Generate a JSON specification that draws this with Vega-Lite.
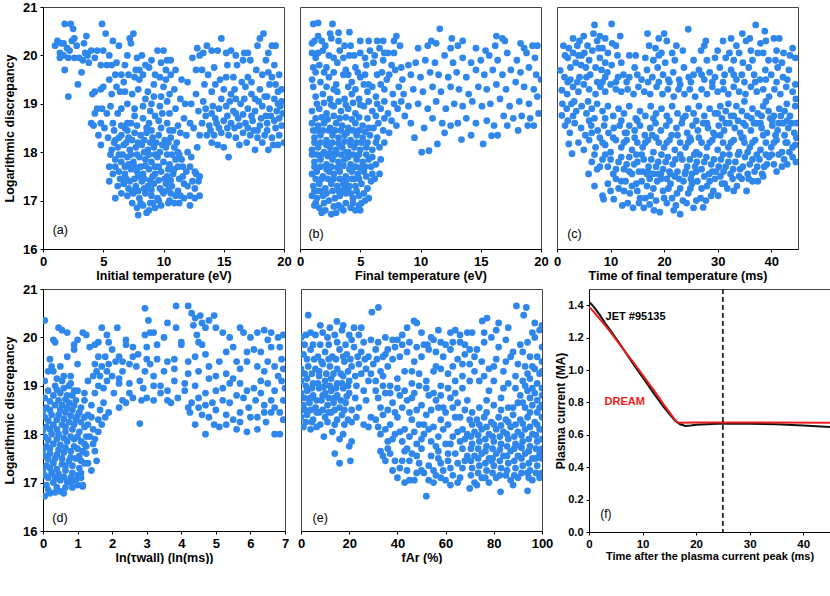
{
  "$schema": "https://vega.github.io/schema/vega-lite/v6.json",
  "padding": {"left": 3, "top": 0, "right": 0, "bottom": 0},
  "config": {
    "font": "Liberation Sans",
    "view": {"stroke": "#444", "strokeWidth": 1},
    "axis": {
      "grid": false, "labelFont": "Liberation Sans", "labelFontWeight": "bold", "labelFontSize": 13,
      "labelColor": "#000", "titleFont": "Liberation Sans", "titleFontWeight": "bold", "titleFontSize": 12.5,
      "titleColor": "#000", "domainColor": "#000", "tickColor": "#000", "tickSize": 3, "labelPadding": 3,
      "labelFlush": false, "labelOverlap": false, "tickCount": 20
    },
    "axisX": {"titlePadding": 1},
    "axisY": {"titlePadding": 6}
  },
  "datasets": {
    "a": [
      {"x":1.0,"y":20.2},{"x":1.2,"y":20.3},{"x":1.5,"y":20.25},{"x":1.4,"y":20.05},{"x":1.7,"y":20.0},{"x":1.8,"y":20.65},{"x":2.0,"y":20.15},{"x":2.2,"y":20.1},{"x":2.3,"y":20.65},{"x":2.5,"y":20.55},{"x":2.6,"y":20.35},{"x":2.8,"y":20.2},{"x":2.1,"y":19.95},{"x":2.6,"y":19.95},{"x":1.4,"y":19.95},{"x":1.8,"y":19.7},{"x":2.1,"y":19.15},{"x":2.9,"y":19.4},{"x":3.2,"y":19.65},{"x":3.0,"y":19.95},{"x":3.3,"y":19.9},{"x":3.4,"y":20.25},{"x":3.6,"y":20.4},{"x":4.0,"y":20.1},{"x":3.8,"y":19.85},{"x":4.5,"y":20.1},{"x":4.9,"y":20.65},{"x":5.2,"y":20.45},{"x":5.0,"y":20.1},{"x":5.5,"y":20.0},{"x":5.8,"y":20.3},{"x":6.1,"y":19.85},{"x":6.3,"y":20.2},{"x":6.0,"y":19.6},{"x":4.8,"y":19.8},{"x":5.3,"y":19.8},{"x":6.7,"y":19.45},{"x":6.5,"y":19.6},{"x":7.1,"y":19.6},{"x":7.0,"y":20.0},{"x":7.2,"y":20.35},{"x":7.5,"y":20.45},{"x":7.3,"y":20.25},{"x":7.8,"y":19.95},{"x":7.7,"y":19.7},{"x":8.0,"y":19.7},{"x":8.3,"y":19.6},{"x":8.5,"y":19.8},{"x":8.8,"y":19.75},{"x":9.0,"y":19.9},{"x":9.5,"y":20.1},{"x":9.8,"y":19.85},{"x":10.0,"y":20.1},{"x":10.3,"y":19.9},{"x":10.6,"y":19.9},{"x":9.3,"y":19.6},{"x":9.7,"y":19.55},{"x":10.2,"y":19.5},{"x":10.6,"y":19.6},{"x":11.0,"y":19.7},{"x":10.9,"y":19.3},{"x":10.5,"y":19.2},{"x":9.2,"y":19.15},{"x":8.7,"y":19.25},{"x":8.5,"y":19.1},{"x":11.5,"y":19.5},{"x":12.0,"y":19.45},{"x":11.4,"y":19.1},{"x":11.8,"y":19.0},{"x":11.7,"y":18.7},{"x":12.2,"y":18.6},{"x":12.5,"y":18.5},
      {"x":4.1,"y":19.2},{"x":4.3,"y":19.25},{"x":4.8,"y":19.3},{"x":5.0,"y":19.35},{"x":4.0,"y":18.6},{"x":4.2,"y":18.55},{"x":4.8,"y":18.6},{"x":4.6,"y":18.35},{"x":4.8,"y":18.15},{"x":4.5,"y":18.9},{"x":4.9,"y":18.9},{"x":5.8,"y":18.6},{"x":5.4,"y":18.3},{"x":5.3,"y":18.8},{"x":6.2,"y":18.8},{"x":6.5,"y":18.9},{"x":6.1,"y":19.35},{"x":7.0,"y":19.0},{"x":7.4,"y":19.2},{"x":7.9,"y":19.3},{"x":7.0,"y":18.6},{"x":5.7,"y":19.2},
      {"x":6.8,"y":18.5},{"x":7.3,"y":18.6},{"x":7.8,"y":18.55},{"x":8.3,"y":18.7},{"x":8.8,"y":18.6},{"x":9.3,"y":18.75},{"x":9.8,"y":18.5},{"x":10.3,"y":18.6},{"x":10.8,"y":18.45},{"x":6.3,"y":18.3},
      {"x":5.9,"y":18.2},{"x":6.5,"y":18.35},{"x":7.1,"y":18.3},{"x":7.6,"y":18.4},{"x":8.1,"y":18.35},{"x":8.6,"y":18.4},{"x":9.1,"y":18.3},{"x":9.6,"y":18.35},{"x":10.1,"y":18.25},{"x":10.6,"y":18.3},{"x":11.1,"y":18.2},{"x":11.4,"y":18.4},
      {"x":5.7,"y":18.05},{"x":6.2,"y":18.1},{"x":6.7,"y":18.15},{"x":7.2,"y":18.05},{"x":7.7,"y":18.1},{"x":8.2,"y":18.15},{"x":8.7,"y":18.05},{"x":9.2,"y":18.1},{"x":9.7,"y":18.0},{"x":10.2,"y":18.1},{"x":10.7,"y":17.95},{"x":11.2,"y":18.0},
      {"x":6.0,"y":17.85},{"x":6.5,"y":17.8},{"x":7.0,"y":17.9},{"x":7.5,"y":17.8},{"x":8.0,"y":17.9},{"x":8.5,"y":17.85},{"x":9.0,"y":17.8},{"x":9.5,"y":17.9},{"x":10.0,"y":17.8},{"x":10.5,"y":17.75},{"x":11.0,"y":17.85},{"x":11.6,"y":17.7},{"x":12.3,"y":17.9},
      {"x":5.8,"y":17.55},{"x":6.3,"y":17.6},{"x":6.8,"y":17.55},{"x":7.3,"y":17.65},{"x":7.8,"y":17.6},{"x":8.3,"y":17.55},{"x":8.8,"y":17.65},{"x":9.3,"y":17.55},{"x":9.8,"y":17.6},{"x":10.3,"y":17.5},{"x":10.8,"y":17.55},{"x":11.3,"y":17.45},{"x":11.9,"y":17.6},{"x":12.6,"y":17.6},{"x":13.0,"y":17.5},
      {"x":6.2,"y":17.3},{"x":6.7,"y":17.35},{"x":7.2,"y":17.4},{"x":7.7,"y":17.3},{"x":8.2,"y":17.4},{"x":8.7,"y":17.3},{"x":9.2,"y":17.35},{"x":9.7,"y":17.25},{"x":10.2,"y":17.35},{"x":10.7,"y":17.3},{"x":11.2,"y":17.2},{"x":11.7,"y":17.35},{"x":12.2,"y":17.1},{"x":12.9,"y":17.4},
      {"x":7.0,"y":17.1},{"x":7.5,"y":17.15},{"x":8.0,"y":17.05},{"x":8.5,"y":17.15},{"x":9.0,"y":17.1},{"x":9.5,"y":17.05},{"x":10.0,"y":17.15},{"x":10.5,"y":17.0},{"x":11.0,"y":17.1},{"x":11.7,"y":17.05},{"x":12.6,"y":17.05},{"x":13.0,"y":17.1},
      {"x":7.8,"y":16.85},{"x":8.3,"y":16.9},{"x":8.8,"y":16.8},{"x":9.3,"y":16.85},{"x":9.8,"y":16.9},{"x":8.6,"y":16.75},{"x":7.9,"y":16.7},{"x":10.4,"y":16.95},{"x":12.2,"y":16.9},
      {"x":6.0,"y":17.7},{"x":6.6,"y":17.95},{"x":7.1,"y":17.75},{"x":7.6,"y":17.45},{"x":8.1,"y":17.7},{"x":8.6,"y":17.25},{"x":9.1,"y":17.5},{"x":9.6,"y":17.7},{"x":10.1,"y":17.45},{"x":10.6,"y":17.15},{"x":8.4,"y":18.0},{"x":9.4,"y":18.2},{"x":7.4,"y":17.2},{"x":8.9,"y":16.95},{"x":10.9,"y":17.65},{"x":11.5,"y":17.85},{"x":12.0,"y":17.3},{"x":6.4,"y":17.45},{"x":7.0,"y":18.45},{"x":9.0,"y":18.45},{"x":5.5,"y":17.7},{"x":6.0,"y":17.05},{"x":5.9,"y":18.45},
      {"x":12.0,"y":18.0},{"x":12.7,"y":17.55},{"x":11.9,"y":18.35},{"x":12.8,"y":18.1},
      {"x":6.5,"y":18.55},{"x":7.6,"y":18.75},{"x":8.6,"y":18.5},{"x":9.6,"y":18.65},{"x":10.5,"y":18.45},
      {"x":6.0,"y":18.25},{"x":6.9,"y":18.2},{"x":7.4,"y":18.25},{"x":7.9,"y":18.2},{"x":8.4,"y":18.25},{"x":8.9,"y":18.2},{"x":9.9,"y":18.15},{"x":10.4,"y":18.2},{"x":10.9,"y":18.1},
      {"x":5.6,"y":17.95},{"x":6.3,"y":17.95},{"x":7.3,"y":17.95},{"x":7.8,"y":17.95},{"x":8.8,"y":17.95},{"x":9.3,"y":17.95},{"x":10.3,"y":17.95},{"x":11.3,"y":17.95},
      {"x":5.5,"y":17.4},{"x":6.8,"y":17.7},{"x":7.6,"y":17.7},{"x":8.5,"y":17.72},{"x":9.3,"y":17.7},{"x":10.4,"y":17.65},{"x":11.2,"y":17.7},{"x":12.2,"y":17.7},
      {"x":6.9,"y":17.45},{"x":7.9,"y":17.5},{"x":8.4,"y":17.45},{"x":8.9,"y":17.42},{"x":9.6,"y":17.42},{"x":10.6,"y":17.42},{"x":11.6,"y":17.5},{"x":12.4,"y":17.4},
      {"x":6.5,"y":17.15},{"x":7.1,"y":17.25},{"x":7.9,"y":17.2},{"x":8.4,"y":17.25},{"x":9.0,"y":17.22},{"x":9.9,"y":17.2},{"x":10.4,"y":17.22},{"x":11.4,"y":17.1},{"x":12.6,"y":17.25},
      {"x":7.4,"y":16.95},{"x":8.1,"y":16.95},{"x":9.1,"y":16.95},{"x":9.6,"y":17.0},{"x":10.9,"y":16.95},{"x":11.3,"y":16.95},
      {"x":3.7,"y":20.0},{"x":4.3,"y":19.95},{"x":5.7,"y":19.8},{"x":6.8,"y":19.8},{"x":8.2,"y":20.0},{"x":9.2,"y":19.4},{"x":10.0,"y":19.35},{"x":10.2,"y":19.7},{"x":8.0,"y":19.5},{"x":6.4,"y":19.25},{"x":5.5,"y":19.5},{"x":7.6,"y":18.9},{"x":8.3,"y":18.95},{"x":9.0,"y":19.0},{"x":9.7,"y":18.95},{"x":10.3,"y":19.05},{"x":11.0,"y":18.9},{"x":11.2,"y":18.55},{"x":10.5,"y":18.8},{"x":12.3,"y":19.0},{"x":4.3,"y":18.8},{"x":5.1,"y":18.5},{"x":5.6,"y":18.95},{"x":6.8,"y":19.25},{"x":3.5,"y":20.05},{"x":2.4,"y":20.3},{"x":1.7,"y":20.25},{"x":9.9,"y":18.8},{"x":8.9,"y":18.85},{"x":7.6,"y":19.55},{"x":9.8,"y":19.15},
      {"x":13.0,"y":20.0},{"x":12.4,"y":19.95},{"x":12.8,"y":20.15},{"x":13.3,"y":20.05},{"x":13.6,"y":20.2},{"x":14.0,"y":20.1},{"x":14.5,"y":20.1},{"x":14.8,"y":20.35},{"x":15.2,"y":20.05},{"x":15.6,"y":20.1},{"x":16.0,"y":20.0},{"x":16.7,"y":20.05},{"x":17.2,"y":19.9},{"x":16.6,"y":19.9},{"x":17.0,"y":20.05},{"x":17.8,"y":20.2},{"x":18.3,"y":20.45},{"x":18.0,"y":20.35},{"x":18.7,"y":20.05},{"x":19.0,"y":20.2},{"x":19.3,"y":20.2},{"x":19.6,"y":19.6},{"x":18.5,"y":19.9},{"x":17.7,"y":19.7},{"x":18.2,"y":19.6},{"x":16.1,"y":19.8},{"x":15.3,"y":19.8},{"x":14.2,"y":19.75},{"x":13.2,"y":19.7},{"x":12.7,"y":19.7},{"x":13.7,"y":19.6},{"x":14.7,"y":19.5},{"x":15.8,"y":19.55},{"x":16.5,"y":19.45},{"x":17.3,"y":19.45},{"x":18.0,"y":19.3},{"x":18.8,"y":19.4},{"x":19.5,"y":19.25},{"x":19.8,"y":19.3},{"x":12.7,"y":19.2},{"x":13.4,"y":19.4},{"x":14.3,"y":19.4},{"x":15.0,"y":19.3},{"x":15.6,"y":19.2},{"x":16.8,"y":19.35},{"x":17.6,"y":19.1},{"x":18.4,"y":19.15},{"x":19.2,"y":19.1},{"x":19.8,"y":19.05},{"x":19.0,"y":19.55},
      {"x":12.9,"y":18.85},{"x":13.5,"y":18.9},{"x":14.0,"y":18.8},{"x":14.6,"y":18.9},{"x":15.2,"y":18.95},{"x":15.8,"y":18.85},{"x":16.4,"y":19.0},{"x":17.0,"y":18.9},{"x":17.6,"y":18.85},{"x":18.2,"y":18.95},{"x":18.8,"y":18.9},{"x":19.4,"y":18.85},{"x":19.9,"y":18.8},
      {"x":13.2,"y":18.6},{"x":13.8,"y":18.55},{"x":14.4,"y":18.6},{"x":15.0,"y":18.65},{"x":15.6,"y":18.6},{"x":16.2,"y":18.7},{"x":16.8,"y":18.6},{"x":17.4,"y":18.65},{"x":18.0,"y":18.55},{"x":18.6,"y":18.6},{"x":19.2,"y":18.65},{"x":19.8,"y":18.55},
      {"x":13.6,"y":18.35},{"x":14.2,"y":18.35},{"x":14.8,"y":18.4},{"x":15.4,"y":18.35},{"x":16.0,"y":18.3},{"x":16.6,"y":18.4},{"x":17.2,"y":18.35},{"x":17.8,"y":18.3},{"x":18.4,"y":18.35},{"x":19.0,"y":18.3},{"x":19.6,"y":18.35},{"x":20.0,"y":18.2},
      {"x":15.0,"y":18.1},{"x":15.4,"y":17.9},{"x":16.3,"y":18.15},{"x":17.6,"y":18.05},{"x":18.7,"y":18.05},{"x":19.5,"y":18.15},{"x":13.0,"y":18.35},{"x":14.1,"y":18.95},{"x":16.0,"y":19.1},{"x":17.3,"y":19.2},{"x":18.5,"y":18.75},{"x":19.3,"y":19.4},{"x":19.7,"y":18.95},{"x":17.5,"y":18.45},{"x":15.9,"y":18.5},{"x":14.5,"y":18.15},
      {"x":13.3,"y":19.05},{"x":14.8,"y":19.1},{"x":15.5,"y":19.05},{"x":16.7,"y":19.1},{"x":17.9,"y":19.05},{"x":18.6,"y":19.15},{"x":19.5,"y":19.0},{"x":13.5,"y":18.75},{"x":14.3,"y":18.7},{"x":15.3,"y":18.75},{"x":16.0,"y":18.8},{"x":16.6,"y":18.78},{"x":17.3,"y":18.75},{"x":18.1,"y":18.7},{"x":18.9,"y":18.75},{"x":19.6,"y":18.7},{"x":13.9,"y":18.45},{"x":14.6,"y":18.5},{"x":15.3,"y":18.5},{"x":16.3,"y":18.55},{"x":17.0,"y":18.5},{"x":17.8,"y":18.45},{"x":18.6,"y":18.45},{"x":19.3,"y":18.5},{"x":14.0,"y":18.2},{"x":16.9,"y":18.2},{"x":18.2,"y":18.2},{"x":19.1,"y":18.15},{"x":15.9,"y":19.3},{"x":17.0,"y":19.55},{"x":18.7,"y":19.65},{"x":14.0,"y":19.25},{"x":19.2,"y":19.8},{"x":15.2,"y":19.55}
    ],
    "b": [
      {"x":1.6,"y":16.85},{"x":2.1,"y":16.8},{"x":2.6,"y":16.72},{"x":3.0,"y":16.75},{"x":3.4,"y":16.85},{"x":4.2,"y":16.85},{"x":4.6,"y":16.8},{"x":1.3,"y":16.95},{"x":3.8,"y":16.95},{"x":5.1,"y":16.95},{"x":5.4,"y":17.0},
      {"x":1.0,"y":17.1},{"x":1.4,"y":17.05},{"x":1.9,"y":17.1},{"x":2.4,"y":17.0},{"x":2.9,"y":17.05},{"x":3.3,"y":17.1},{"x":3.8,"y":17.15},{"x":4.4,"y":17.05},{"x":4.9,"y":17.1},{"x":5.7,"y":17.05},
      {"x":1.1,"y":17.3},{"x":1.6,"y":17.35},{"x":2.1,"y":17.25},{"x":2.6,"y":17.35},{"x":3.1,"y":17.3},{"x":3.6,"y":17.35},{"x":4.1,"y":17.3},{"x":4.6,"y":17.3},{"x":5.1,"y":17.35},{"x":5.6,"y":17.25},{"x":5.9,"y":17.4},
      {"x":1.0,"y":17.55},{"x":1.4,"y":17.6},{"x":1.9,"y":17.5},{"x":2.4,"y":17.6},{"x":2.8,"y":17.55},{"x":3.3,"y":17.6},{"x":3.8,"y":17.5},{"x":4.3,"y":17.6},{"x":4.8,"y":17.55},{"x":5.3,"y":17.6},{"x":6.0,"y":17.55},{"x":6.6,"y":17.55},
      {"x":1.2,"y":17.8},{"x":1.7,"y":17.85},{"x":2.2,"y":17.75},{"x":2.7,"y":17.85},{"x":3.2,"y":17.8},{"x":3.7,"y":17.85},{"x":4.2,"y":17.75},{"x":4.7,"y":17.85},{"x":5.2,"y":17.8},{"x":5.7,"y":17.85},{"x":6.3,"y":17.75},
      {"x":1.0,"y":18.05},{"x":1.5,"y":18.1},{"x":2.0,"y":18.0},{"x":2.5,"y":18.1},{"x":3.0,"y":18.05},{"x":3.5,"y":18.1},{"x":4.0,"y":18.0},{"x":4.5,"y":18.1},{"x":5.0,"y":18.05},{"x":5.5,"y":18.1},{"x":6.0,"y":18.05},{"x":6.6,"y":18.1},{"x":7.0,"y":18.2},
      {"x":1.2,"y":18.3},{"x":1.7,"y":18.35},{"x":2.2,"y":18.25},{"x":2.7,"y":18.35},{"x":3.2,"y":18.3},{"x":3.7,"y":18.35},{"x":4.2,"y":18.25},{"x":4.7,"y":18.35},{"x":5.2,"y":18.3},{"x":5.8,"y":18.35},{"x":6.4,"y":18.3},{"x":7.4,"y":18.4},
      {"x":1.0,"y":18.6},{"x":1.5,"y":18.55},{"x":2.0,"y":18.6},{"x":2.5,"y":18.5},{"x":3.0,"y":18.6},{"x":3.5,"y":18.55},{"x":4.0,"y":18.5},{"x":4.6,"y":18.6},{"x":5.2,"y":18.55},{"x":5.7,"y":18.5},{"x":6.5,"y":18.6},{"x":7.0,"y":18.7},{"x":8.0,"y":18.55},
      {"x":1.3,"y":17.2},{"x":2.3,"y":17.45},{"x":3.5,"y":17.2},{"x":4.5,"y":17.45},{"x":5.4,"y":17.7},{"x":1.8,"y":17.95},{"x":2.9,"y":17.95},{"x":4.0,"y":17.9},{"x":5.1,"y":18.2},{"x":6.1,"y":18.5},{"x":2.4,"y":18.45},{"x":3.4,"y":18.45},{"x":1.1,"y":18.45},{"x":2.0,"y":16.95},{"x":3.2,"y":16.9},{"x":4.0,"y":17.25},{"x":4.9,"y":16.9},
      {"x":1.2,"y":16.9},{"x":1.8,"y":16.75},{"x":2.8,"y":16.88},{"x":3.6,"y":16.8},{"x":4.4,"y":16.95},{"x":5.0,"y":16.8},
      {"x":1.2,"y":17.2},{"x":1.7,"y":17.2},{"x":2.2,"y":17.15},{"x":2.7,"y":17.2},{"x":3.2,"y":17.2},{"x":3.7,"y":17.25},{"x":4.2,"y":17.15},{"x":4.7,"y":17.2},{"x":5.3,"y":17.15},
      {"x":1.3,"y":17.45},{"x":1.8,"y":17.45},{"x":2.8,"y":17.45},{"x":3.3,"y":17.45},{"x":3.8,"y":17.4},{"x":4.3,"y":17.45},{"x":4.9,"y":17.45},{"x":5.5,"y":17.5},{"x":6.2,"y":17.45},
      {"x":1.2,"y":17.7},{"x":1.7,"y":17.7},{"x":2.2,"y":17.65},{"x":2.6,"y":17.7},{"x":3.1,"y":17.68},{"x":3.6,"y":17.72},{"x":4.1,"y":17.65},{"x":4.6,"y":17.7},{"x":5.0,"y":17.68},{"x":5.9,"y":17.7},
      {"x":1.0,"y":17.95},{"x":1.4,"y":17.95},{"x":2.3,"y":17.92},{"x":2.5,"y":17.98},{"x":3.4,"y":17.95},{"x":3.8,"y":18.0},{"x":4.4,"y":17.95},{"x":4.9,"y":17.95},{"x":5.5,"y":17.95},{"x":6.0,"y":17.9},{"x":6.7,"y":17.85},
      {"x":1.2,"y":18.2},{"x":1.7,"y":18.2},{"x":2.2,"y":18.15},{"x":2.7,"y":18.2},{"x":3.2,"y":18.18},{"x":3.7,"y":18.22},{"x":4.2,"y":18.15},{"x":4.7,"y":18.2},{"x":5.6,"y":18.2},{"x":6.3,"y":18.2},
      {"x":1.4,"y":18.45},{"x":1.9,"y":18.45},{"x":2.9,"y":18.45},{"x":3.9,"y":18.4},{"x":4.4,"y":18.45},{"x":4.9,"y":18.45},{"x":5.4,"y":18.42},{"x":6.9,"y":18.45},
      {"x":1.3,"y":18.7},{"x":1.8,"y":18.72},{"x":2.3,"y":18.68},{"x":2.8,"y":18.75},{"x":3.3,"y":18.7},{"x":3.8,"y":18.72},{"x":4.3,"y":18.68},{"x":4.9,"y":18.72},{"x":5.6,"y":18.7},{"x":6.3,"y":18.75},{"x":7.6,"y":18.65},
      {"x":1.4,"y":19.0},{"x":2.0,"y":19.02},{"x":2.6,"y":18.98},{"x":3.2,"y":19.05},{"x":3.8,"y":18.98},{"x":4.4,"y":19.02},{"x":5.0,"y":18.98},{"x":5.7,"y":19.05},{"x":6.4,"y":19.0},{"x":7.0,"y":19.05},{"x":7.8,"y":19.0},{"x":8.4,"y":19.05},
      {"x":1.1,"y":19.35},{"x":2.2,"y":19.35},{"x":2.8,"y":19.3},{"x":4.0,"y":19.35},{"x":4.6,"y":19.3},{"x":5.3,"y":19.4},{"x":6.0,"y":19.35},{"x":6.7,"y":19.4},{"x":8.2,"y":19.35},
      {"x":1.3,"y":19.65},{"x":2.0,"y":19.65},{"x":2.8,"y":19.65},{"x":4.0,"y":19.6},{"x":4.8,"y":19.65},{"x":5.4,"y":19.6},{"x":6.8,"y":19.65},{"x":7.4,"y":19.6},
      {"x":1.3,"y":19.95},{"x":2.8,"y":19.95},{"x":3.6,"y":19.95},{"x":4.5,"y":20.0},{"x":5.4,"y":19.95},{"x":6.2,"y":20.0},{"x":7.0,"y":20.05},{"x":7.8,"y":20.05},{"x":1.0,"y":20.25},{"x":2.1,"y":20.2},{"x":3.7,"y":20.2},{"x":5.0,"y":20.3},{"x":6.9,"y":20.3},
      {"x":1.0,"y":18.85},{"x":1.6,"y":18.9},{"x":2.2,"y":18.8},{"x":2.8,"y":18.95},{"x":3.4,"y":18.85},{"x":4.0,"y":18.9},{"x":4.6,"y":18.8},{"x":5.3,"y":18.95},{"x":6.0,"y":18.85},{"x":6.7,"y":18.9},{"x":7.3,"y":18.8},{"x":8.1,"y":18.9},{"x":8.7,"y":18.75},
      {"x":1.3,"y":19.15},{"x":1.9,"y":19.2},{"x":2.5,"y":19.1},{"x":3.1,"y":19.25},{"x":3.7,"y":19.1},{"x":4.3,"y":19.2},{"x":4.9,"y":19.1},{"x":5.6,"y":19.25},{"x":6.3,"y":19.15},{"x":7.0,"y":19.3},{"x":7.7,"y":19.2},{"x":8.6,"y":19.2},
      {"x":1.0,"y":19.5},{"x":1.7,"y":19.45},{"x":2.4,"y":19.55},{"x":3.0,"y":19.4},{"x":3.6,"y":19.6},{"x":4.3,"y":19.45},{"x":5.0,"y":19.55},{"x":5.7,"y":19.4},{"x":6.4,"y":19.6},{"x":7.2,"y":19.5},{"x":7.9,"y":19.7},{"x":8.5,"y":19.5},
      {"x":1.1,"y":19.75},{"x":1.6,"y":19.8},{"x":2.2,"y":19.75},{"x":3.1,"y":19.85},{"x":3.8,"y":19.7},{"x":4.6,"y":19.75},{"x":5.5,"y":19.8},{"x":6.1,"y":19.85},{"x":6.9,"y":19.9},{"x":7.6,"y":19.8},{"x":8.4,"y":19.75},{"x":9.0,"y":19.8},
      {"x":1.0,"y":20.05},{"x":1.5,"y":20.05},{"x":1.9,"y":20.1},{"x":2.4,"y":20.0},{"x":3.3,"y":20.1},{"x":4.1,"y":20.0},{"x":5.0,"y":20.05},{"x":5.8,"y":20.1},{"x":6.6,"y":20.15},{"x":7.3,"y":20.05},{"x":8.3,"y":20.2},
      {"x":1.2,"y":20.3},{"x":1.8,"y":20.3},{"x":2.6,"y":20.35},{"x":3.2,"y":20.3},{"x":4.2,"y":20.2},{"x":5.7,"y":20.3},{"x":6.4,"y":20.3},{"x":7.8,"y":20.3},{"x":8.0,"y":20.4},
      {"x":1.1,"y":20.65},{"x":1.5,"y":20.67},{"x":2.7,"y":20.65},{"x":2.5,"y":20.45},{"x":3.2,"y":20.47},{"x":4.1,"y":20.48},{"x":1.5,"y":20.4},
      {"x":9.2,"y":18.6},{"x":10.1,"y":18.0},{"x":10.7,"y":18.03},{"x":11.4,"y":18.17},{"x":12.0,"y":18.4},{"x":13.4,"y":18.26},{"x":14.2,"y":18.35},{"x":15.2,"y":18.17},{"x":15.9,"y":18.34},{"x":16.4,"y":18.35},{"x":17.2,"y":18.55},{"x":18.1,"y":18.45},{"x":18.9,"y":18.55},{"x":19.4,"y":18.55},
      {"x":9.5,"y":18.3},{"x":10.3,"y":18.5},{"x":11.0,"y":18.7},{"x":11.8,"y":18.6},{"x":12.5,"y":18.55},{"x":13.1,"y":18.6},{"x":13.8,"y":18.7},{"x":14.6,"y":18.6},{"x":15.5,"y":18.65},{"x":16.1,"y":18.55},{"x":16.9,"y":18.75},{"x":17.7,"y":18.7},{"x":18.4,"y":18.75},{"x":19.1,"y":18.7},{"x":19.8,"y":18.8},
      {"x":9.0,"y":18.95},{"x":9.8,"y":19.0},{"x":10.6,"y":18.9},{"x":11.3,"y":19.05},{"x":12.1,"y":18.9},{"x":12.8,"y":19.0},{"x":13.5,"y":18.95},{"x":14.3,"y":19.05},{"x":15.1,"y":18.95},{"x":15.8,"y":19.0},{"x":16.6,"y":19.1},{"x":17.4,"y":18.95},{"x":18.2,"y":19.05},{"x":19.0,"y":19.0},{"x":19.7,"y":19.15},
      {"x":9.4,"y":19.3},{"x":10.2,"y":19.25},{"x":11.0,"y":19.35},{"x":11.7,"y":19.25},{"x":12.5,"y":19.35},{"x":13.2,"y":19.3},{"x":14.0,"y":19.2},{"x":14.8,"y":19.35},{"x":15.5,"y":19.3},{"x":16.3,"y":19.4},{"x":17.1,"y":19.3},{"x":17.9,"y":19.45},{"x":18.6,"y":19.35},{"x":19.4,"y":19.3},{"x":20.0,"y":19.5},
      {"x":9.2,"y":19.6},{"x":10.0,"y":19.55},{"x":10.8,"y":19.65},{"x":11.5,"y":19.6},{"x":12.3,"y":19.55},{"x":13.0,"y":19.65},{"x":13.8,"y":19.55},{"x":14.6,"y":19.7},{"x":15.3,"y":19.6},{"x":16.0,"y":19.7},{"x":16.8,"y":19.6},{"x":17.5,"y":19.7},{"x":18.3,"y":19.65},{"x":19.0,"y":19.75},{"x":19.6,"y":19.6},
      {"x":9.6,"y":19.85},{"x":10.4,"y":19.9},{"x":11.2,"y":19.85},{"x":12.0,"y":20.0},{"x":12.7,"y":19.85},{"x":13.5,"y":19.95},{"x":14.2,"y":19.85},{"x":15.0,"y":19.9},{"x":15.7,"y":20.0},{"x":16.4,"y":19.9},{"x":17.2,"y":20.05},{"x":18.0,"y":19.9},{"x":18.8,"y":20.05},{"x":19.5,"y":19.95},
      {"x":9.8,"y":20.15},{"x":10.6,"y":20.2},{"x":11.3,"y":20.25},{"x":12.5,"y":20.15},{"x":13.1,"y":20.2},{"x":14.6,"y":20.15},{"x":15.4,"y":20.1},{"x":16.2,"y":20.2},{"x":17.0,"y":20.3},{"x":18.3,"y":20.25},{"x":19.3,"y":20.2},{"x":19.7,"y":20.2},
      {"x":11.6,"y":20.55},{"x":12.6,"y":20.35},{"x":16.3,"y":20.4},{"x":16.8,"y":20.35},{"x":18.6,"y":20.15},{"x":13.5,"y":20.3},{"x":10.9,"y":20.3}
    ],
    "c": [
      {"x":7.0,"y":20.63},{"x":10.2,"y":20.65},{"x":24.5,"y":20.54},{"x":37.1,"y":20.63},{"x":11.8,"y":20.4},{"x":6.8,"y":20.45},{"x":7.5,"y":20.3},{"x":8.0,"y":20.4},{"x":16.9,"y":20.45},{"x":20.0,"y":20.45},{"x":20.5,"y":20.3},{"x":17.2,"y":20.2},{"x":18.4,"y":20.15},{"x":19.5,"y":20.05},{"x":21.5,"y":20.05},{"x":22.3,"y":20.2},{"x":36.0,"y":20.35},{"x":35.3,"y":20.3},{"x":33.5,"y":20.2},{"x":31.0,"y":20.3},{"x":34.0,"y":20.05},{"x":38.0,"y":20.25},{"x":39.0,"y":20.3},{"x":40.5,"y":20.35},{"x":41.0,"y":20.1},{"x":42.3,"y":20.05},{"x":43.5,"y":20.0},{"x":44.5,"y":19.95},{"x":36.2,"y":20.1},{"x":37.5,"y":20.05},
      {"x":1.2,"y":20.2},{"x":2.2,"y":20.15},{"x":3.0,"y":20.05},{"x":3.8,"y":20.2},{"x":4.2,"y":20.3},{"x":5.1,"y":20.05},{"x":5.7,"y":20.2},{"x":6.6,"y":20.1},{"x":7.8,"y":20.15},{"x":8.5,"y":20.15},{"x":9.5,"y":20.05},{"x":10.3,"y":20.25},{"x":11.3,"y":20.0},{"x":14.7,"y":20.0},{"x":16.5,"y":19.95},{"x":18.0,"y":19.9},{"x":20.2,"y":19.85},{"x":26.9,"y":20.1},{"x":28.0,"y":19.9},{"x":29.5,"y":19.95},{"x":31.5,"y":19.95},{"x":32.2,"y":20.05},{"x":34.7,"y":19.85},{"x":39.5,"y":19.9},{"x":40.8,"y":19.9},
      {"x":0.6,"y":19.69},{"x":1.4,"y":19.55},{"x":2.5,"y":19.75},{"x":3.5,"y":19.85},{"x":4.5,"y":19.8},{"x":5.4,"y":19.75},{"x":6.2,"y":19.6},{"x":7.2,"y":19.75},{"x":8.3,"y":19.7},{"x":9.4,"y":19.65},{"x":10.2,"y":19.8},{"x":11.4,"y":19.55},{"x":12.4,"y":19.6},{"x":13.5,"y":19.55},{"x":14.5,"y":19.75},{"x":15.8,"y":19.5},{"x":16.8,"y":19.7},{"x":17.8,"y":19.55},{"x":18.8,"y":19.75},{"x":19.8,"y":19.6},{"x":20.8,"y":19.5},{"x":21.7,"y":19.65},{"x":22.8,"y":19.5},{"x":23.7,"y":19.75},{"x":24.6,"y":19.55},{"x":25.5,"y":19.6},{"x":26.5,"y":19.7},{"x":27.5,"y":19.5},{"x":28.5,"y":19.65},{"x":29.5,"y":19.55},{"x":30.4,"y":19.75},{"x":31.3,"y":19.6},{"x":32.5,"y":19.7},{"x":33.5,"y":19.5},{"x":34.5,"y":19.6},{"x":35.8,"y":19.75},{"x":36.8,"y":19.6},{"x":37.9,"y":19.5},{"x":38.9,"y":19.7},{"x":40.0,"y":19.6},{"x":41.2,"y":19.75},{"x":42.2,"y":19.55},{"x":43.3,"y":19.7},{"x":44.5,"y":19.4},
      {"x":0.9,"y":19.28},{"x":1.9,"y":19.2},{"x":3.0,"y":19.35},{"x":4.0,"y":19.25},{"x":5.0,"y":19.4},{"x":6.0,"y":19.3},{"x":7.2,"y":19.2},{"x":8.1,"y":19.35},{"x":9.0,"y":19.25},{"x":10.0,"y":19.4},{"x":11.0,"y":19.3},{"x":12.0,"y":19.25},{"x":13.2,"y":19.3},{"x":14.3,"y":19.2},{"x":15.2,"y":19.35},{"x":16.3,"y":19.25},{"x":17.4,"y":19.2},{"x":18.6,"y":19.35},{"x":19.7,"y":19.2},{"x":20.7,"y":19.3},{"x":21.8,"y":19.15},{"x":22.7,"y":19.3},{"x":23.8,"y":19.2},{"x":24.8,"y":19.3},{"x":25.8,"y":19.15},{"x":27.0,"y":19.3},{"x":28.0,"y":19.2},{"x":29.0,"y":19.35},{"x":30.0,"y":19.25},{"x":31.1,"y":19.3},{"x":32.0,"y":19.2},{"x":33.0,"y":19.35},{"x":34.0,"y":19.25},{"x":35.2,"y":19.2},{"x":36.2,"y":19.35},{"x":37.3,"y":19.25},{"x":38.5,"y":19.3},{"x":39.6,"y":19.15},{"x":40.6,"y":19.3},{"x":41.7,"y":19.2},{"x":42.8,"y":19.35},{"x":44.0,"y":19.25},
      {"x":0.9,"y":18.76},{"x":1.8,"y":18.9},{"x":2.7,"y":19.0},{"x":3.6,"y":18.85},{"x":4.6,"y":18.95},{"x":5.5,"y":18.8},{"x":6.5,"y":18.9},{"x":7.5,"y":19.0},{"x":8.5,"y":18.85},{"x":9.5,"y":18.95},{"x":10.5,"y":18.75},{"x":11.5,"y":18.9},{"x":12.5,"y":18.8},{"x":13.5,"y":18.95},{"x":14.7,"y":18.7},{"x":15.5,"y":18.85},{"x":16.5,"y":18.75},{"x":17.5,"y":18.95},{"x":18.5,"y":18.8},{"x":19.5,"y":18.9},{"x":20.5,"y":18.75},{"x":21.5,"y":18.95},{"x":22.5,"y":18.8},{"x":23.5,"y":18.7},{"x":24.5,"y":18.9},{"x":25.5,"y":18.8},{"x":26.5,"y":18.95},{"x":27.5,"y":18.75},{"x":28.5,"y":18.9},{"x":29.5,"y":18.8},{"x":30.5,"y":18.95},{"x":31.5,"y":18.85},{"x":32.5,"y":18.75},{"x":33.5,"y":18.95},{"x":34.5,"y":18.85},{"x":35.5,"y":18.75},{"x":36.5,"y":18.9},{"x":37.5,"y":18.8},{"x":38.5,"y":18.95},{"x":39.5,"y":18.85},{"x":40.5,"y":18.75},{"x":41.5,"y":18.9},{"x":42.5,"y":18.85},{"x":43.5,"y":18.75},{"x":44.5,"y":18.95},
      {"x":1.5,"y":18.55},{"x":2.4,"y":18.4},{"x":3.3,"y":18.6},{"x":4.5,"y":18.5},{"x":5.3,"y":18.35},{"x":6.4,"y":18.55},{"x":7.6,"y":18.45},{"x":8.8,"y":18.55},{"x":9.6,"y":18.4},{"x":10.6,"y":18.5},{"x":11.7,"y":18.55},{"x":12.7,"y":18.4},{"x":13.5,"y":18.55},{"x":14.5,"y":18.45},{"x":15.5,"y":18.55},{"x":16.4,"y":18.35},{"x":17.4,"y":18.5},{"x":18.4,"y":18.6},{"x":19.4,"y":18.45},{"x":20.4,"y":18.55},{"x":21.4,"y":18.35},{"x":22.3,"y":18.5},{"x":23.3,"y":18.6},{"x":24.3,"y":18.4},{"x":25.3,"y":18.55},{"x":26.3,"y":18.45},{"x":27.3,"y":18.6},{"x":28.2,"y":18.5},{"x":29.2,"y":18.4},{"x":30.2,"y":18.55},{"x":31.2,"y":18.45},{"x":32.2,"y":18.6},{"x":33.2,"y":18.5},{"x":34.2,"y":18.4},{"x":35.2,"y":18.55},{"x":36.2,"y":18.45},{"x":37.2,"y":18.6},{"x":38.2,"y":18.5},{"x":39.2,"y":18.4},{"x":40.2,"y":18.55},{"x":41.2,"y":18.45},{"x":42.2,"y":18.6},{"x":43.2,"y":18.5},{"x":44.3,"y":18.4},
      {"x":2.2,"y":18.17},{"x":2.8,"y":17.97},{"x":4.0,"y":18.2},{"x":5.0,"y":18.05},{"x":6.0,"y":18.25},{"x":7.2,"y":18.1},{"x":8.0,"y":18.3},{"x":9.0,"y":18.15},{"x":10.0,"y":18.0},{"x":11.0,"y":18.25},{"x":12.0,"y":18.1},{"x":13.0,"y":18.25},{"x":14.0,"y":18.05},{"x":15.0,"y":18.2},{"x":16.0,"y":18.1},{"x":17.0,"y":18.25},{"x":18.0,"y":18.0},{"x":19.0,"y":18.2},{"x":20.0,"y":18.1},{"x":21.0,"y":18.25},{"x":22.0,"y":18.05},{"x":23.0,"y":18.2},{"x":24.0,"y":18.1},{"x":25.0,"y":18.25},{"x":26.0,"y":18.0},{"x":27.0,"y":18.2},{"x":28.0,"y":18.1},{"x":29.0,"y":18.25},{"x":30.0,"y":18.05},{"x":31.0,"y":18.2},{"x":32.0,"y":18.1},{"x":33.0,"y":18.25},{"x":34.0,"y":18.0},{"x":35.0,"y":18.2},{"x":36.0,"y":18.1},{"x":37.0,"y":18.25},{"x":38.0,"y":18.05},{"x":39.0,"y":18.2},{"x":40.0,"y":18.1},{"x":41.0,"y":18.25},{"x":42.0,"y":18.0},{"x":43.0,"y":18.2},{"x":44.0,"y":18.1},{"x":44.7,"y":18.3},
      {"x":5.9,"y":17.55},{"x":6.5,"y":17.8},{"x":7.5,"y":17.65},{"x":8.5,"y":17.85},{"x":9.5,"y":17.7},{"x":10.5,"y":17.55},{"x":11.5,"y":17.8},{"x":12.5,"y":17.65},{"x":13.5,"y":17.9},{"x":14.4,"y":17.75},{"x":15.3,"y":17.6},{"x":16.2,"y":17.85},{"x":17.1,"y":17.7},{"x":18.0,"y":17.55},{"x":18.9,"y":17.8},{"x":19.8,"y":17.65},{"x":20.7,"y":17.9},{"x":21.6,"y":17.75},{"x":22.5,"y":17.6},{"x":23.4,"y":17.85},{"x":24.3,"y":17.7},{"x":25.2,"y":17.55},{"x":26.1,"y":17.8},{"x":27.0,"y":17.65},{"x":27.9,"y":17.9},{"x":28.8,"y":17.75},{"x":29.7,"y":17.6},{"x":30.6,"y":17.85},{"x":31.5,"y":17.7},{"x":32.4,"y":17.55},{"x":33.3,"y":17.8},{"x":34.2,"y":17.65},{"x":35.1,"y":17.9},{"x":36.0,"y":17.75},{"x":36.9,"y":17.6},{"x":37.8,"y":17.85},{"x":38.7,"y":17.7},{"x":39.6,"y":17.9},{"x":40.5,"y":17.75},{"x":41.4,"y":17.95},{"x":42.4,"y":17.85},{"x":43.4,"y":18.0},
      {"x":13.0,"y":18.4},{"x":17.8,"y":18.35},{"x":24.8,"y":18.3},{"x":29.5,"y":18.35},{"x":34.8,"y":18.3},{"x":40.8,"y":18.35},{"x":14.8,"y":17.95},{"x":19.5,"y":17.95},{"x":25.6,"y":17.95},{"x":31.0,"y":17.95},{"x":37.3,"y":17.95},
      {"x":7.0,"y":17.3},{"x":8.7,"y":17.03},{"x":8.5,"y":17.1},{"x":9.5,"y":17.35},{"x":10.6,"y":17.03},{"x":11.5,"y":17.25},{"x":12.2,"y":16.9},{"x":12.8,"y":17.4},{"x":13.6,"y":17.15},{"x":14.2,"y":16.85},{"x":14.8,"y":17.35},{"x":15.5,"y":17.05},{"x":16.2,"y":16.85},{"x":16.8,"y":17.3},{"x":17.5,"y":17.1},{"x":18.1,"y":16.8},{"x":18.7,"y":17.4},{"x":19.2,"y":16.76},{"x":19.8,"y":17.2},{"x":20.5,"y":16.95},{"x":21.2,"y":17.35},{"x":21.8,"y":16.8},{"x":22.4,"y":17.15},{"x":23.0,"y":16.72},{"x":23.6,"y":17.4},{"x":24.2,"y":16.95},{"x":24.9,"y":17.25},{"x":25.5,"y":16.85},{"x":26.2,"y":17.4},{"x":26.8,"y":17.05},{"x":27.3,"y":16.86},{"x":28.0,"y":17.3},{"x":28.8,"y":17.1},{"x":29.5,"y":17.45},{"x":30.1,"y":17.1},{"x":30.8,"y":17.35},{"x":31.8,"y":17.25},{"x":32.8,"y":17.45},{"x":33.6,"y":17.3},{"x":34.5,"y":17.45},{"x":35.4,"y":17.2},{"x":36.5,"y":17.4},{"x":12.0,"y":17.4},{"x":15.8,"y":17.4},{"x":20.5,"y":17.45},{"x":25.0,"y":17.45},{"x":17.3,"y":17.45},{"x":22.8,"y":17.45},{"x":27.5,"y":17.5},
      {"x":31.5,"y":18.6},{"x":33.0,"y":18.75},{"x":34.8,"y":18.6},{"x":36.3,"y":18.7},{"x":38.0,"y":18.6},{"x":39.8,"y":18.7},{"x":41.4,"y":18.6},{"x":43.0,"y":18.65},{"x":44.7,"y":18.6},{"x":32.2,"y":17.95},{"x":35.6,"y":18.0},{"x":39.0,"y":17.95},{"x":42.7,"y":18.2},{"x":44.6,"y":17.8},{"x":30.0,"y":18.8},{"x":16.0,"y":17.6},{"x":19.0,"y":17.55},{"x":22.0,"y":17.5},{"x":13.5,"y":17.6},{"x":24.0,"y":17.6},
      {"x":1.5,"y":20.0},{"x":2.5,"y":19.5},{"x":4.2,"y":19.55},{"x":3.2,"y":19.05},{"x":5.8,"y":19.05},{"x":2.0,"y":18.65},{"x":7.0,"y":18.7},{"x":8.5,"y":19.45},{"x":1.0,"y":19.0},{"x":4.6,"y":20.0},
      {"x":10.0,"y":17.2},{"x":11.0,"y":17.45},{"x":12.5,"y":17.2},{"x":13.2,"y":16.95},{"x":14.0,"y":17.3},{"x":15.0,"y":17.2},{"x":15.3,"y":16.95},{"x":16.5,"y":17.05},{"x":17.3,"y":16.92},{"x":18.0,"y":17.25},{"x":18.5,"y":17.0},{"x":19.5,"y":17.45},{"x":20.0,"y":17.05},{"x":20.8,"y":17.25},{"x":21.5,"y":17.05},{"x":22.2,"y":16.9},{"x":23.0,"y":17.25},{"x":23.5,"y":17.0},{"x":24.5,"y":17.15},{"x":25.2,"y":17.35},{"x":26.0,"y":17.0},{"x":27.0,"y":17.25},{"x":27.8,"y":17.0},{"x":28.5,"y":17.4},{"x":29.2,"y":17.2},{"x":30.5,"y":17.5},{"x":31.3,"y":17.35},{"x":33.0,"y":17.2},{"x":34.0,"y":17.5},{"x":35.8,"y":17.45},{"x":37.5,"y":17.4},{"x":38.5,"y":17.5},{"x":17.0,"y":17.6},{"x":21.0,"y":17.6},{"x":26.0,"y":17.6},{"x":29.0,"y":17.6},
      {"x":7.0,"y":17.95},{"x":8.0,"y":17.7},{"x":9.0,"y":17.95},{"x":10.0,"y":17.85},{"x":11.0,"y":17.65},{"x":12.0,"y":17.9},{"x":13.0,"y":17.75},{"x":14.0,"y":17.55},{"x":15.0,"y":17.8},{"x":15.8,"y":17.95},{"x":16.8,"y":17.55},{"x":17.6,"y":17.85},{"x":18.5,"y":17.7},{"x":19.4,"y":17.55},{"x":20.3,"y":17.8},{"x":21.2,"y":17.55},{"x":22.1,"y":17.85},{"x":23.0,"y":17.95},{"x":23.9,"y":17.55},{"x":24.8,"y":17.85},{"x":25.8,"y":17.7},{"x":26.6,"y":17.95},{"x":27.5,"y":17.8},{"x":28.4,"y":17.55},{"x":29.3,"y":17.85},{"x":30.2,"y":17.7},{"x":31.1,"y":17.6},{"x":32.0,"y":17.8},{"x":32.9,"y":17.65},{"x":33.8,"y":17.95},{"x":34.7,"y":17.7},{"x":35.6,"y":17.55},{"x":36.5,"y":17.85},{"x":37.4,"y":17.7},{"x":38.3,"y":17.55},{"x":39.2,"y":17.75},{"x":40.1,"y":17.95},{"x":41.0,"y":17.6},{"x":42.0,"y":17.7},{"x":43.0,"y":17.75},{"x":44.0,"y":17.9},
      {"x":6.5,"y":18.4},{"x":8.5,"y":18.2},{"x":10.5,"y":18.3},{"x":12.5,"y":18.2},{"x":14.5,"y":18.3},{"x":16.5,"y":18.2},{"x":18.5,"y":18.3},{"x":20.5,"y":18.2},{"x":22.5,"y":18.35},{"x":24.5,"y":18.2},{"x":26.5,"y":18.3},{"x":28.5,"y":18.2},{"x":30.5,"y":18.35},{"x":32.5,"y":18.2},{"x":34.5,"y":18.3},{"x":36.5,"y":18.2},{"x":38.5,"y":18.35},{"x":40.5,"y":18.2},{"x":42.5,"y":18.35},{"x":44.5,"y":18.15},
      {"x":28.0,"y":18.6},{"x":30.8,"y":18.7},{"x":32.0,"y":19.0},{"x":33.8,"y":18.65},{"x":35.0,"y":19.05},{"x":36.8,"y":18.6},{"x":38.2,"y":18.75},{"x":39.0,"y":19.05},{"x":40.2,"y":18.65},{"x":41.8,"y":18.75},{"x":42.9,"y":19.0},{"x":43.8,"y":18.6},{"x":44.6,"y":19.1},{"x":26.0,"y":18.65},{"x":24.0,"y":18.75},{"x":21.0,"y":18.65},{"x":18.0,"y":18.7},{"x":15.0,"y":18.65},{"x":12.0,"y":18.65},{"x":9.0,"y":18.7},{"x":6.0,"y":18.65},{"x":3.0,"y":18.75},
      {"x":2.0,"y":19.45},{"x":3.8,"y":19.45},{"x":5.5,"y":19.55},{"x":7.5,"y":19.45},{"x":9.0,"y":19.55},{"x":11.0,"y":19.45},{"x":13.0,"y":19.45},{"x":15.0,"y":19.6},{"x":17.0,"y":19.45},{"x":19.0,"y":19.45},{"x":21.0,"y":19.45},{"x":23.0,"y":19.4},{"x":25.0,"y":19.45},{"x":27.0,"y":19.6},{"x":29.0,"y":19.45},{"x":31.0,"y":19.45},{"x":33.0,"y":19.6},{"x":35.0,"y":19.45},{"x":37.0,"y":19.45},{"x":39.0,"y":19.5},{"x":41.0,"y":19.45},{"x":43.0,"y":19.5},
      {"x":2.0,"y":19.95},{"x":4.0,"y":20.0},{"x":6.0,"y":19.9},{"x":8.0,"y":19.95},{"x":9.0,"y":19.85},{"x":12.0,"y":19.85},{"x":13.5,"y":20.0},{"x":19.0,"y":20.0},{"x":22.0,"y":19.9},{"x":25.5,"y":19.9},{"x":27.5,"y":20.2},{"x":30.0,"y":20.1},{"x":33.0,"y":19.9},{"x":36.5,"y":19.9},{"x":38.5,"y":20.05},{"x":42.0,"y":19.85},{"x":44.0,"y":20.15},
      {"x":3.0,"y":20.35},{"x":5.0,"y":20.4},{"x":9.0,"y":20.35},{"x":11.0,"y":20.2},{"x":19.0,"y":20.35},{"x":23.5,"y":20.1},{"x":27.8,"y":20.3},{"x":32.5,"y":20.35},{"x":34.6,"y":20.45},{"x":38.8,"y":20.5},{"x":41.5,"y":20.35}
    ],
    "d": [
      {"x":0.05,"y":16.72},{"x":0.2,"y":16.78},{"x":0.35,"y":16.8},{"x":0.5,"y":16.82},{"x":0.65,"y":16.9},{"x":0.85,"y":16.9},{"x":1.15,"y":16.92},{"x":0.1,"y":16.95},{"x":0.3,"y":17.0},{"x":0.5,"y":17.05},{"x":0.7,"y":17.02},{"x":0.95,"y":17.05},{"x":1.1,"y":17.1},
      {"x":0.05,"y":17.15},{"x":0.25,"y":17.2},{"x":0.45,"y":17.18},{"x":0.65,"y":17.25},{"x":0.85,"y":17.2},{"x":1.05,"y":17.3},{"x":1.2,"y":17.4},
      {"x":0.1,"y":17.35},{"x":0.3,"y":17.4},{"x":0.55,"y":17.38},{"x":0.75,"y":17.45},{"x":0.95,"y":17.5},
      {"x":0.05,"y":17.55},{"x":0.2,"y":17.6},{"x":0.4,"y":17.58},{"x":0.6,"y":17.62},{"x":0.8,"y":17.65},{"x":1.0,"y":17.7},{"x":1.15,"y":17.65},
      {"x":0.1,"y":17.75},{"x":0.3,"y":17.8},{"x":0.5,"y":17.78},{"x":0.7,"y":17.85},{"x":0.9,"y":17.9},{"x":1.1,"y":17.85},
      {"x":0.05,"y":17.95},{"x":0.25,"y":18.0},{"x":0.45,"y":18.0},{"x":0.65,"y":18.05},{"x":0.85,"y":18.1},{"x":1.05,"y":18.05},{"x":1.2,"y":18.15},
      {"x":0.1,"y":18.15},{"x":0.3,"y":18.2},{"x":0.55,"y":18.2},{"x":0.75,"y":18.25},{"x":0.95,"y":18.3},
      {"x":0.05,"y":18.35},{"x":0.25,"y":18.4},{"x":0.45,"y":18.4},{"x":0.65,"y":18.45},{"x":0.85,"y":18.5},{"x":1.05,"y":18.45},
      {"x":0.1,"y":18.55},{"x":0.35,"y":18.6},{"x":0.55,"y":18.6},{"x":0.75,"y":18.65},{"x":0.95,"y":18.7},
      {"x":0.05,"y":18.75},{"x":0.3,"y":18.8},{"x":0.5,"y":18.85},{"x":0.7,"y":18.8},{"x":0.9,"y":18.9},
      {"x":0.05,"y":19.1},{"x":0.35,"y":19.0},{"x":0.55,"y":19.1},{"x":0.75,"y":19.0},{"x":0.6,"y":19.2},{"x":0.8,"y":19.2},{"x":0.4,"y":19.15},
      {"x":0.15,"y":16.85},{"x":0.4,"y":16.9},{"x":0.6,"y":16.78},{"x":0.8,"y":17.0},{"x":1.0,"y":16.95},
      {"x":0.15,"y":17.1},{"x":0.35,"y":17.1},{"x":0.6,"y":17.12},{"x":0.8,"y":17.1},{"x":1.0,"y":17.15},
      {"x":0.0,"y":17.25},{"x":0.2,"y":17.3},{"x":0.4,"y":17.28},{"x":0.65,"y":17.35},{"x":0.85,"y":17.35},{"x":1.1,"y":17.45},
      {"x":0.15,"y":17.48},{"x":0.35,"y":17.5},{"x":0.55,"y":17.5},{"x":0.8,"y":17.52},{"x":1.05,"y":17.55},
      {"x":0.0,"y":17.68},{"x":0.2,"y":17.7},{"x":0.45,"y":17.68},{"x":0.65,"y":17.72},{"x":0.9,"y":17.75},{"x":1.25,"y":17.75},
      {"x":0.15,"y":17.88},{"x":0.4,"y":17.9},{"x":0.6,"y":17.92},{"x":0.8,"y":17.95},{"x":1.0,"y":17.95},{"x":1.25,"y":17.95},
      {"x":0.0,"y":18.08},{"x":0.2,"y":18.1},{"x":0.4,"y":18.1},{"x":0.65,"y":18.15},{"x":0.9,"y":18.2},{"x":1.1,"y":18.25},
      {"x":0.15,"y":18.28},{"x":0.4,"y":18.3},{"x":0.6,"y":18.32},{"x":0.8,"y":18.38},{"x":1.0,"y":18.38},{"x":1.2,"y":18.35},
      {"x":0.0,"y":18.48},{"x":0.2,"y":18.5},{"x":0.5,"y":18.5},{"x":0.7,"y":18.55},{"x":0.9,"y":18.6},
      {"x":0.2,"y":18.68},{"x":0.45,"y":18.7},{"x":0.65,"y":18.72},{"x":0.85,"y":18.8},
      {"x":0.15,"y":18.9},{"x":0.4,"y":18.92},{"x":0.6,"y":18.95},{"x":0.8,"y":19.05},{"x":0.3,"y":19.3},{"x":0.5,"y":19.4},{"x":0.15,"y":19.3},
      {"x":0.05,"y":20.35},{"x":0.2,"y":19.55},{"x":0.25,"y":19.4},{"x":0.45,"y":20.2},{"x":0.55,"y":20.15},{"x":0.7,"y":20.1},{"x":0.3,"y":19.95},{"x":0.35,"y":19.9},{"x":0.7,"y":19.6},{"x":0.9,"y":19.85},{"x":1.0,"y":19.95},{"x":1.0,"y":19.45},{"x":0.9,"y":19.75},{"x":1.15,"y":20.1},{"x":1.25,"y":20.05},{"x":1.35,"y":19.8},{"x":1.5,"y":19.85},{"x":1.6,"y":19.9},{"x":1.7,"y":20.2},{"x":1.85,"y":20.05},{"x":1.9,"y":19.9},{"x":1.8,"y":19.6},{"x":1.6,"y":19.6},
      {"x":1.0,"y":18.9},{"x":1.1,"y":18.55},{"x":1.2,"y":18.7},{"x":1.3,"y":18.4},{"x":1.4,"y":18.6},{"x":1.5,"y":18.85},{"x":1.6,"y":19.0},{"x":1.65,"y":19.2},{"x":1.55,"y":19.3},{"x":1.5,"y":19.45},{"x":1.3,"y":18.2},{"x":1.45,"y":18.1},{"x":1.35,"y":17.95},{"x":1.2,"y":17.8},{"x":1.25,"y":17.6},{"x":1.5,"y":17.65},{"x":1.55,"y":17.45},{"x":1.3,"y":17.4},{"x":1.15,"y":16.95},{"x":1.1,"y":17.2},{"x":1.5,"y":17.9},{"x":1.75,"y":18.65},{"x":1.8,"y":18.35},{"x":1.9,"y":18.45},{"x":1.75,"y":18.95},{"x":1.7,"y":19.4},{"x":1.85,"y":19.3},{"x":2.0,"y":19.2},{"x":2.1,"y":19.5},{"x":2.2,"y":19.6},{"x":2.0,"y":19.75},
      {"x":1.4,"y":17.25},{"x":1.45,"y":17.8},{"x":1.6,"y":18.05},{"x":1.7,"y":18.2},{"x":1.65,"y":18.5},{"x":1.4,"y":18.35},{"x":1.2,"y":18.85},{"x":1.3,"y":19.1},{"x":1.45,"y":19.2},{"x":1.9,"y":19.45},{"x":2.3,"y":19.5},{"x":2.6,"y":19.6},{"x":3.0,"y":19.55},{"x":3.3,"y":19.85},{"x":3.0,"y":19.8},{"x":3.5,"y":20.0},
      {"x":2.15,"y":20.2},{"x":2.4,"y":19.95},{"x":2.4,"y":19.85},{"x":2.6,"y":19.8},{"x":2.75,"y":19.65},{"x":2.95,"y":20.05},{"x":3.05,"y":20.35},{"x":3.1,"y":20.1},{"x":3.2,"y":20.1},{"x":2.95,"y":20.6},{"x":3.6,"y":20.3},{"x":3.85,"y":20.65},{"x":3.85,"y":20.2},{"x":4.2,"y":20.65},{"x":4.3,"y":20.5},{"x":4.4,"y":20.4},{"x":4.55,"y":20.45},{"x":4.6,"y":20.3},{"x":4.8,"y":20.35},{"x":4.95,"y":20.45},{"x":4.7,"y":20.2},{"x":5.0,"y":20.2},{"x":4.35,"y":20.25},{"x":4.45,"y":20.05},{"x":4.0,"y":19.85},{"x":4.0,"y":19.9},{"x":4.5,"y":19.9},{"x":4.6,"y":19.85},{"x":5.2,"y":20.1},{"x":5.4,"y":20.0},{"x":5.5,"y":19.8},{"x":5.8,"y":20.1},{"x":5.7,"y":20.2},{"x":6.0,"y":20.0},{"x":6.2,"y":20.1},{"x":6.4,"y":20.15},{"x":6.6,"y":20.1},{"x":6.8,"y":20.0},{"x":6.95,"y":20.05},{"x":6.5,"y":19.95},{"x":5.3,"y":19.7},{"x":5.6,"y":19.5},{"x":5.9,"y":19.7},{"x":6.1,"y":19.75},{"x":6.3,"y":19.7},{"x":6.6,"y":19.8},{"x":6.85,"y":19.8},{"x":6.9,"y":19.55},{"x":6.7,"y":19.4},{"x":6.5,"y":19.5},{"x":5.7,"y":19.35},{"x":5.1,"y":19.5},{"x":4.8,"y":19.4},{"x":4.5,"y":19.3},{"x":4.2,"y":19.25},{"x":3.8,"y":19.35},{"x":3.6,"y":19.5},{"x":3.5,"y":19.3},{"x":3.3,"y":19.55},{"x":3.1,"y":19.45},{"x":2.95,"y":19.3},{"x":2.7,"y":19.4},{"x":2.5,"y":19.45},{"x":2.3,"y":19.3},{"x":2.2,"y":19.15},{"x":2.5,"y":19.05},{"x":2.8,"y":19.1},{"x":3.2,"y":19.2},{"x":3.4,"y":19.0},{"x":3.8,"y":19.1},{"x":4.1,"y":19.05},{"x":4.4,"y":19.0},{"x":4.1,"y":18.9},{"x":4.3,"y":18.65},{"x":4.5,"y":18.75},{"x":4.7,"y":18.85},{"x":5.0,"y":18.9},{"x":5.2,"y":18.95},{"x":5.4,"y":19.05},{"x":5.7,"y":19.05},{"x":5.9,"y":18.9},{"x":6.1,"y":18.95},{"x":6.3,"y":19.1},{"x":6.5,"y":19.05},{"x":6.7,"y":18.9},{"x":6.9,"y":19.1},{"x":7.0,"y":18.95},{"x":6.95,"y":18.7},{"x":6.7,"y":18.55},{"x":6.4,"y":18.6},{"x":6.15,"y":18.7},{"x":5.95,"y":18.55},{"x":5.7,"y":18.45},{"x":5.5,"y":18.3},{"x":5.3,"y":18.4},{"x":5.0,"y":18.5},{"x":4.8,"y":18.35},{"x":4.6,"y":18.4},{"x":4.25,"y":18.45},{"x":4.2,"y":18.55},{"x":4.7,"y":18.6},{"x":5.1,"y":18.15},{"x":5.3,"y":18.2},{"x":5.6,"y":18.1},{"x":5.9,"y":18.05},{"x":6.2,"y":18.1},{"x":6.45,"y":18.25},{"x":6.7,"y":18.0},{"x":6.85,"y":18.0},{"x":6.95,"y":18.3},{"x":6.6,"y":18.45},{"x":6.2,"y":18.35},{"x":4.7,"y":18.0},{"x":4.95,"y":18.2},{"x":3.6,"y":18.7},{"x":3.2,"y":18.7},{"x":3.0,"y":18.75},{"x":2.85,"y":18.7},{"x":2.6,"y":18.75},{"x":2.4,"y":18.65},{"x":2.3,"y":18.7},{"x":3.4,"y":18.85},{"x":3.7,"y":18.65},{"x":3.9,"y":18.75},{"x":2.8,"y":18.22},{"x":2.05,"y":18.85},{"x":2.2,"y":19.05},{"x":1.85,"y":19.1},{"x":1.6,"y":18.3},
      {"x":2.2,"y":18.55},{"x":2.5,"y":18.85},{"x":2.9,"y":18.95},{"x":3.2,"y":19.0},{"x":3.6,"y":18.9},{"x":3.8,"y":19.55},{"x":4.2,"y":19.5},{"x":4.4,"y":19.6},{"x":4.7,"y":19.65},{"x":4.8,"y":19.15},{"x":5.0,"y":19.2},{"x":5.3,"y":19.25},{"x":5.5,"y":19.15},{"x":5.9,"y":19.5},{"x":6.2,"y":19.4},{"x":6.4,"y":19.3},{"x":6.8,"y":19.2},{"x":6.95,"y":19.35},{"x":5.2,"y":18.7},{"x":5.4,"y":18.65},{"x":5.6,"y":18.8},{"x":5.8,"y":18.75},{"x":6.0,"y":18.35},{"x":6.3,"y":18.85},{"x":6.6,"y":18.7},{"x":6.85,"y":18.45},{"x":4.4,"y":18.2},{"x":4.5,"y":18.55},{"x":4.9,"y":18.65},{"x":5.7,"y":18.25},{"x":6.4,"y":18.45}
    ],
    "e": [
      {"x":0,"y":18.85},{"x":2.5,"y":18.9},{"x":5,"y":18.8},{"x":7.5,"y":18.95},{"x":10,"y":18.85},{"x":12.5,"y":18.9},{"x":15,"y":18.8},{"x":17.5,"y":18.95},{"x":20,"y":18.85},{"x":22.5,"y":18.75},
      {"x":1,"y":18.6},{"x":3.5,"y":18.65},{"x":6,"y":18.55},{"x":8.5,"y":18.7},{"x":11,"y":18.6},{"x":13.5,"y":18.65},{"x":16,"y":18.55},{"x":18.5,"y":18.65},{"x":21,"y":18.5},
      {"x":0,"y":18.35},{"x":2.5,"y":18.4},{"x":5,"y":18.3},{"x":7.5,"y":18.45},{"x":10,"y":18.35},{"x":12.5,"y":18.45},{"x":15,"y":18.3},{"x":17,"y":18.4},{"x":19.5,"y":18.3},
      {"x":1,"y":18.15},{"x":4,"y":18.1},{"x":6.5,"y":18.15},{"x":9.5,"y":17.95},{"x":13,"y":18.05},{"x":16,"y":17.9},{"x":17.5,"y":18.0},{"x":20,"y":17.75},{"x":21,"y":17.85},{"x":14,"y":17.6},{"x":16,"y":17.4},{"x":20.5,"y":17.45},
      {"x":0,"y":19.1},{"x":2.5,"y":19.15},{"x":5,"y":19.05},{"x":7.5,"y":19.2},{"x":10,"y":19.1},{"x":12.5,"y":19.15},{"x":15,"y":19.05},{"x":17.5,"y":19.2},{"x":20,"y":19.1},{"x":23,"y":19.0},{"x":26,"y":18.9},{"x":28,"y":19.1},
      {"x":0,"y":19.35},{"x":3,"y":19.4},{"x":6,"y":19.35},{"x":9,"y":19.45},{"x":12,"y":19.4},{"x":15,"y":19.35},{"x":18,"y":19.5},{"x":21,"y":19.4},{"x":24,"y":19.45},{"x":27,"y":19.35},{"x":30,"y":19.45},{"x":33,"y":19.3},{"x":36,"y":19.4},
      {"x":1,"y":19.65},{"x":4,"y":19.75},{"x":7,"y":19.6},{"x":10,"y":19.7},{"x":13,"y":19.6},{"x":16,"y":19.75},{"x":19,"y":19.65},{"x":22,"y":19.8},{"x":25,"y":19.7},{"x":28,"y":19.6},{"x":31,"y":19.75},{"x":34,"y":19.6},
      {"x":0,"y":20.0},{"x":2,"y":20.05},{"x":4,"y":20.1},{"x":6,"y":20.05},{"x":9,"y":20.1},{"x":11,"y":20.0},{"x":14,"y":20.05},{"x":17,"y":20.15},{"x":20,"y":20.05},{"x":24,"y":20.05},{"x":26,"y":19.9},{"x":29,"y":19.95},{"x":32,"y":19.9},{"x":35,"y":20.0},{"x":38,"y":19.95},
      {"x":3,"y":20.46},{"x":14.9,"y":20.33},{"x":29.4,"y":20.52},{"x":32.1,"y":20.62},{"x":22,"y":20.2},{"x":17.5,"y":20.25},
      {"x":1.5,"y":18.75},{"x":4,"y":18.75},{"x":6.5,"y":18.7},{"x":9,"y":18.8},{"x":11.5,"y":18.75},{"x":14,"y":18.75},{"x":16.5,"y":18.7},{"x":19,"y":18.78},{"x":1.5,"y":18.5},{"x":4,"y":18.5},{"x":6.5,"y":18.45},{"x":9,"y":18.5},{"x":11.5,"y":18.45},{"x":14,"y":18.5},{"x":18,"y":18.5},{"x":2,"y":19.0},{"x":4.5,"y":18.95},{"x":7,"y":19.05},{"x":9.5,"y":18.98},{"x":12,"y":19.0},{"x":14.5,"y":18.95},{"x":17,"y":19.05},{"x":19.5,"y":19.0},{"x":2,"y":18.25},{"x":4.5,"y":18.25},{"x":8,"y":18.2},{"x":11,"y":18.25},{"x":14,"y":18.2},{"x":18,"y":18.2},{"x":21,"y":18.25},{"x":23,"y":18.35},{"x":1.5,"y":19.25},{"x":4.5,"y":19.25},{"x":7.5,"y":19.3},{"x":10.5,"y":19.25},{"x":13.5,"y":19.25},{"x":16.5,"y":19.25},{"x":19.5,"y":19.3},{"x":22.5,"y":19.2},{"x":25,"y":19.25},
      {"x":1.5,"y":19.85},{"x":5,"y":19.85},{"x":8,"y":19.85},{"x":11.5,"y":19.85},{"x":15,"y":19.9},{"x":18.5,"y":19.85},{"x":21,"y":19.95},{"x":2.5,"y":19.55},{"x":5.5,"y":19.55},{"x":8.5,"y":19.5},{"x":11.5,"y":19.55},{"x":14.5,"y":19.55},{"x":17.5,"y":19.6},{"x":20.5,"y":19.55},{"x":23.5,"y":19.6},{"x":26.5,"y":19.55},{"x":29,"y":19.25},{"x":31.5,"y":19.55},{"x":8,"y":20.25},{"x":12,"y":20.2},{"x":25,"y":20.2},
      {"x":40,"y":19.95},{"x":42,"y":20.05},{"x":44,"y":20.2},{"x":46.9,"y":20.34},{"x":48,"y":20.3},{"x":50,"y":20.1},{"x":52.5,"y":19.85},{"x":54,"y":20.0},{"x":56,"y":19.7},{"x":58,"y":19.9},{"x":62,"y":20.1},{"x":64,"y":20.15},{"x":66,"y":19.9},{"x":68,"y":19.85},{"x":70,"y":19.75},{"x":38,"y":19.55},{"x":41,"y":19.6},{"x":44,"y":19.7},{"x":47,"y":19.5},{"x":50,"y":19.6},{"x":53,"y":19.75},{"x":56,"y":19.4},{"x":59,"y":19.6},{"x":62,"y":19.75},{"x":65,"y":19.55},{"x":68,"y":19.65},
      {"x":31,"y":19.1},{"x":34,"y":19.2},{"x":37,"y":19.0},{"x":40,"y":19.15},{"x":43,"y":19.3},{"x":46,"y":19.05},{"x":49,"y":19.25},{"x":52,"y":19.1},{"x":55,"y":19.3},{"x":58,"y":19.0},{"x":61,"y":19.25},{"x":64,"y":19.1},{"x":67,"y":19.2},{"x":70,"y":19.1},{"x":32,"y":18.75},{"x":35,"y":18.85},{"x":38,"y":18.65},{"x":41,"y":18.8},{"x":44,"y":18.7},{"x":47,"y":18.85},{"x":50,"y":18.6},{"x":53,"y":18.8},{"x":56,"y":18.7},{"x":59,"y":18.55},{"x":62,"y":18.75},{"x":65,"y":18.65},{"x":68,"y":18.5},{"x":24,"y":18.55},{"x":27,"y":18.7},{"x":29,"y":18.35},{"x":26,"y":18.2},{"x":28,"y":18.15},
      {"x":31,"y":18.3},{"x":34,"y":18.4},{"x":37,"y":18.2},{"x":40,"y":18.35},{"x":43,"y":18.1},{"x":46,"y":18.3},{"x":49,"y":18.2},{"x":52,"y":18.4},{"x":55,"y":18.15},{"x":58,"y":18.3},{"x":61,"y":18.2},{"x":64,"y":18.35},{"x":67,"y":18.1},{"x":70,"y":18.3},{"x":33,"y":18.0},{"x":36,"y":17.85},{"x":39,"y":18.0},{"x":42,"y":17.85},{"x":45,"y":17.95},{"x":48,"y":17.8},{"x":51,"y":18.0},{"x":54,"y":17.85},{"x":57,"y":17.95},{"x":60,"y":17.8},{"x":63,"y":17.95},{"x":66,"y":17.85},{"x":69,"y":18.0},
      {"x":33,"y":17.65},{"x":35,"y":17.45},{"x":37,"y":17.6},{"x":38,"y":17.25},{"x":40,"y":17.1},{"x":42,"y":17.45},{"x":44,"y":17.25},{"x":46,"y":17.6},{"x":47,"y":17.05},{"x":49,"y":17.4},{"x":51,"y":17.2},{"x":52,"y":16.72},{"x":54,"y":17.55},{"x":56,"y":17.15},{"x":58,"y":17.4},{"x":60,"y":17.05},{"x":62,"y":17.3},{"x":64,"y":17.6},{"x":66,"y":17.1},{"x":68,"y":17.45},{"x":70,"y":16.88},{"x":36,"y":17.7},{"x":43,"y":17.65},{"x":50,"y":17.7},{"x":57,"y":17.65},{"x":61,"y":17.6},{"x":67,"y":17.7},{"x":45,"y":17.05},{"x":55,"y":17.0},{"x":65,"y":17.0},
      {"x":31,"y":18.9},{"x":34,"y":19.0},{"x":37,"y":18.85},{"x":40,"y":18.95},{"x":43,"y":18.9},{"x":46,"y":18.75},{"x":49,"y":19.0},{"x":52,"y":18.95},{"x":55,"y":18.85},{"x":58,"y":18.8},{"x":61,"y":18.95},{"x":64,"y":18.85},{"x":67,"y":18.95},{"x":33,"y":18.55},{"x":36,"y":18.5},{"x":39,"y":18.45},{"x":42,"y":18.55},{"x":45,"y":18.45},{"x":48,"y":18.5},{"x":51,"y":18.2},{"x":54,"y":18.5},{"x":57,"y":18.55},{"x":60,"y":18.45},{"x":63,"y":18.55},{"x":66,"y":18.35},{"x":69,"y":18.7},
      {"x":32,"y":18.15},{"x":35,"y":18.1},{"x":38,"y":17.9},{"x":41,"y":18.05},{"x":44,"y":17.7},{"x":47,"y":18.05},{"x":50,"y":17.9},{"x":53,"y":18.1},{"x":56,"y":17.75},{"x":59,"y":18.1},{"x":62,"y":17.8},{"x":65,"y":18.05},{"x":68,"y":17.9},{"x":34,"y":17.55},{"x":39,"y":17.45},{"x":41,"y":17.3},{"x":45,"y":17.45},{"x":48,"y":17.55},{"x":50,"y":17.25},{"x":53,"y":17.35},{"x":55,"y":17.25},{"x":57,"y":17.5},{"x":59,"y":17.25},{"x":61,"y":17.45},{"x":63,"y":17.15},{"x":65,"y":17.4},{"x":67,"y":17.3},{"x":69,"y":17.55},{"x":48,"y":17.2},{"x":53,"y":17.05},{"x":58,"y":17.1},{"x":62,"y":16.95},{"x":43,"y":17.0},
      {"x":36,"y":19.75},{"x":39,"y":19.8},{"x":42,"y":19.85},{"x":45,"y":19.9},{"x":48,"y":19.8},{"x":51,"y":19.85},{"x":55,"y":19.95},{"x":57,"y":20.15},{"x":60,"y":19.85},{"x":63,"y":19.9},{"x":66,"y":20.05},{"x":69,"y":20.1},{"x":35,"y":19.65},{"x":46,"y":19.3},{"x":58,"y":19.35},{"x":63,"y":19.4},{"x":67,"y":19.45},
      {"x":72,"y":17.0},{"x":75,"y":17.1},{"x":78,"y":17.0},{"x":81,"y":17.1},{"x":82.8,"y":16.81},{"x":87,"y":17.05},{"x":90,"y":17.1},{"x":94,"y":16.83},{"x":96,"y":17.05},{"x":99,"y":17.1},
      {"x":71,"y":17.3},{"x":74,"y":17.35},{"x":77,"y":17.25},{"x":80,"y":17.35},{"x":83,"y":17.3},{"x":86,"y":17.4},{"x":89,"y":17.3},{"x":92,"y":17.35},{"x":95,"y":17.25},{"x":98,"y":17.35},
      {"x":72,"y":17.55},{"x":75,"y":17.6},{"x":78,"y":17.5},{"x":81,"y":17.6},{"x":84,"y":17.55},{"x":87,"y":17.65},{"x":90,"y":17.55},{"x":93,"y":17.6},{"x":96,"y":17.5},{"x":99,"y":17.6},
      {"x":71,"y":17.8},{"x":74,"y":17.85},{"x":77,"y":17.75},{"x":80,"y":17.85},{"x":83,"y":17.8},{"x":86,"y":17.9},{"x":89,"y":17.8},{"x":92,"y":17.85},{"x":95,"y":17.75},{"x":98,"y":17.85},
      {"x":72,"y":18.05},{"x":75,"y":18.1},{"x":78,"y":18.0},{"x":81,"y":18.1},{"x":84,"y":18.05},{"x":87,"y":18.15},{"x":90,"y":18.05},{"x":93,"y":18.1},{"x":96,"y":18.0},{"x":99,"y":18.1},
      {"x":73,"y":18.3},{"x":76,"y":18.35},{"x":79,"y":18.25},{"x":82,"y":18.35},{"x":85,"y":18.3},{"x":88,"y":18.4},{"x":91,"y":18.3},{"x":94,"y":18.35},{"x":97,"y":18.25},{"x":100,"y":18.35},
      {"x":74,"y":18.55},{"x":80,"y":18.6},{"x":86,"y":18.55},{"x":90,"y":18.65},{"x":93,"y":18.55},{"x":96,"y":18.6},{"x":99,"y":18.55},{"x":77,"y":18.7},{"x":83,"y":18.75},
      {"x":91,"y":18.8},{"x":94,"y":18.9},{"x":97,"y":18.85},{"x":100,"y":18.95},{"x":92,"y":19.1},{"x":95,"y":19.15},{"x":98,"y":19.05},{"x":100,"y":19.3},{"x":96,"y":19.4},{"x":93,"y":19.4},
      {"x":72,"y":19.3},{"x":75,"y":19.5},{"x":78,"y":19.35},{"x":81,"y":19.55},{"x":84,"y":19.3},{"x":87,"y":19.6},{"x":90,"y":19.45},{"x":73,"y":19.75},{"x":76,"y":19.9},{"x":79,"y":20.0},{"x":82,"y":19.8},{"x":85,"y":19.95},{"x":88,"y":19.7},{"x":91,"y":19.85},{"x":94,"y":19.9},{"x":97,"y":20.0},{"x":100,"y":19.8},{"x":99,"y":20.15},{"x":96,"y":20.1},{"x":75.2,"y":20.34},{"x":77.2,"y":20.4},{"x":89.4,"y":20.65},{"x":93.5,"y":20.62},{"x":92.4,"y":20.46},{"x":86,"y":20.2},{"x":81,"y":20.15},{"x":71,"y":20.1},{"x":70,"y":19.45},{"x":74,"y":19.1},{"x":80,"y":19.1},{"x":86,"y":19.05},{"x":89,"y":18.95},{"x":78,"y":18.9},{"x":84,"y":18.95},
      {"x":73,"y":16.95},{"x":85,"y":17.15},{"x":94,"y":17.2},{"x":100,"y":17.5},{"x":100,"y":17.9},{"x":88,"y":16.95},{"x":79,"y":17.45},{"x":91,"y":17.75},
      {"x":70.5,"y":17.15},{"x":73.5,"y":17.2},{"x":76.5,"y":17.1},{"x":79.5,"y":17.2},{"x":82.5,"y":17.15},{"x":85.5,"y":17.25},{"x":88.5,"y":17.15},{"x":91.5,"y":17.2},{"x":94.5,"y":17.1},{"x":97.5,"y":17.2},{"x":100,"y":17.2},
      {"x":70.5,"y":17.45},{"x":73.5,"y":17.5},{"x":76.5,"y":17.4},{"x":79.5,"y":17.5},{"x":82.5,"y":17.45},{"x":85.5,"y":17.55},{"x":88.5,"y":17.45},{"x":91.5,"y":17.5},{"x":94.5,"y":17.4},{"x":97.5,"y":17.5},
      {"x":70.5,"y":17.7},{"x":73.5,"y":17.7},{"x":76.5,"y":17.65},{"x":79.5,"y":17.7},{"x":82.5,"y":17.68},{"x":85.5,"y":17.75},{"x":88.5,"y":17.7},{"x":91.5,"y":17.72},{"x":94.5,"y":17.65},{"x":97.5,"y":17.7},{"x":100,"y":17.7},
      {"x":70.5,"y":17.95},{"x":73.5,"y":17.98},{"x":76.5,"y":17.9},{"x":79.5,"y":17.95},{"x":82.5,"y":17.95},{"x":85.5,"y":18.0},{"x":88.5,"y":17.95},{"x":91.5,"y":17.98},{"x":94.5,"y":17.9},{"x":97.5,"y":17.98},{"x":100,"y":18.1},
      {"x":71,"y":18.2},{"x":74,"y":18.2},{"x":77,"y":18.15},{"x":80,"y":18.2},{"x":83,"y":18.18},{"x":86,"y":18.25},{"x":89,"y":18.2},{"x":92,"y":18.22},{"x":95,"y":18.15},{"x":98,"y":18.2},
      {"x":71,"y":18.45},{"x":77,"y":18.45},{"x":83,"y":18.5},{"x":88,"y":18.55},{"x":95,"y":18.45},{"x":98,"y":18.45},{"x":100,"y":18.6},{"x":92,"y":18.65},{"x":95,"y":18.75},{"x":98,"y":18.7},{"x":100,"y":18.8},{"x":93,"y":19.0},{"x":96,"y":18.95},{"x":99,"y":19.25},{"x":97,"y":19.35},{"x":94,"y":19.25},{"x":100,"y":19.5},{"x":98,"y":19.6},{"x":95,"y":19.6},{"x":92,"y":19.7},{"x":89,"y":19.2},{"x":85,"y":19.5},{"x":80,"y":19.4},{"x":76,"y":19.2},{"x":72,"y":19.6},{"x":82,"y":20.3},{"x":76,"y":20.1},{"x":97,"y":20.3},{"x":100,"y":20.25}
    ],
    "f": [
      {"t":0,"i":1.42,"s":"JET"},{"t":0.5,"i":1.405,"s":"JET"},{"t":1,"i":1.385,"s":"JET"},{"t":2,"i":1.34,"s":"JET"},{"t":3,"i":1.29,"s":"JET"},{"t":4,"i":1.245,"s":"JET"},{"t":6,"i":1.15,"s":"JET"},{"t":8,"i":1.05,"s":"JET"},{"t":10,"i":0.955,"s":"JET"},{"t":12,"i":0.86,"s":"JET"},{"t":14,"i":0.77,"s":"JET"},{"t":15,"i":0.73,"s":"JET"},{"t":16,"i":0.69,"s":"JET"},{"t":17,"i":0.665,"s":"JET"},{"t":18,"i":0.655,"s":"JET"},{"t":19,"i":0.658,"s":"JET"},{"t":20,"i":0.662,"s":"JET"},{"t":25,"i":0.67,"s":"JET"},{"t":30,"i":0.668,"s":"JET"},{"t":35,"i":0.665,"s":"JET"},{"t":40,"i":0.658,"s":"JET"},{"t":45,"i":0.648,"s":"JET"},
      {"t":0,"i":1.39,"s":"DREAM"},{"t":1,"i":1.355,"s":"DREAM"},{"t":2,"i":1.315,"s":"DREAM"},{"t":3,"i":1.275,"s":"DREAM"},{"t":4,"i":1.235,"s":"DREAM"},{"t":6,"i":1.145,"s":"DREAM"},{"t":8,"i":1.06,"s":"DREAM"},{"t":10,"i":0.97,"s":"DREAM"},{"t":12,"i":0.88,"s":"DREAM"},{"t":14,"i":0.785,"s":"DREAM"},{"t":15,"i":0.74,"s":"DREAM"},{"t":16,"i":0.695,"s":"DREAM"},{"t":16.5,"i":0.678,"s":"DREAM"},{"t":17,"i":0.675,"s":"DREAM"},{"t":20,"i":0.676,"s":"DREAM"},{"t":30,"i":0.676,"s":"DREAM"},{"t":45,"i":0.675,"s":"DREAM"}
    ]
  },
  "spacing": 0,
  "vconcat": [
    {
      "spacing": 3,
      "hconcat": [
        {
          "width": 241, "height": 242,
          "layer": [
            {"data": {"name": "a"}, "mark": {"type": "circle", "size": 46, "opacity": 1, "color": "#2f87ec", "clip": true},
             "encoding": {
               "x": {"field": "x", "type": "quantitative", "scale": {"domain": [0, 20], "nice": false}, "axis": {"title": "Initial temperature (eV)", "values": [0, 5, 10, 15, 20], "format": "d", "tickCount": 20, "labelOverlap": false}},
               "y": {"field": "y", "type": "quantitative", "scale": {"domain": [16, 21], "nice": false, "zero": false}, "axis": {"title": "Logarithmic discrepancy", "values": [16, 17, 18, 19, 20, 21], "format": "d", "tickCount": 20, "labelOverlap": false}}
             }},
            {"data": {"values": [{"label": "(a)"}]}, "mark": {"type": "text", "align": "left", "baseline": "middle", "fontSize": 12.5},
             "encoding": {"x": {"datum": 0.8}, "y": {"datum": 16.4}, "text": {"field": "label"}}}
          ]
        },
        {
          "width": 241, "height": 242,
          "layer": [
            {"data": {"name": "b"}, "mark": {"type": "circle", "size": 46, "opacity": 1, "color": "#2f87ec", "clip": true},
             "encoding": {
               "x": {"field": "x", "type": "quantitative", "scale": {"domain": [0, 20], "nice": false}, "axis": {"title": "Final temperature (eV)", "values": [0, 5, 10, 15, 20], "format": "d", "tickCount": 20, "labelOverlap": false}},
               "y": {"field": "y", "type": "quantitative", "scale": {"domain": [16, 21], "nice": false, "zero": false}, "axis": null}
             }},
            {"data": {"values": [{"label": "(b)"}]}, "mark": {"type": "text", "align": "left", "baseline": "middle", "fontSize": 12.5},
             "encoding": {"x": {"datum": 0.7}, "y": {"datum": 16.3}, "text": {"field": "label"}}}
          ]
        },
        {
          "width": 241, "height": 242,
          "layer": [
            {"data": {"name": "c"}, "mark": {"type": "circle", "size": 46, "opacity": 1, "color": "#2f87ec", "clip": true},
             "encoding": {
               "x": {"field": "x", "type": "quantitative", "scale": {"domain": [0, 45], "nice": false}, "axis": {"title": "Time of final temperature (ms)", "values": [0, 10, 20, 30, 40], "format": "d", "tickCount": 20, "labelOverlap": false}},
               "y": {"field": "y", "type": "quantitative", "scale": {"domain": [16, 21], "nice": false, "zero": false}, "axis": null}
             }},
            {"data": {"values": [{"label": "(c)"}]}, "mark": {"type": "text", "align": "left", "baseline": "middle", "fontSize": 12.5},
             "encoding": {"x": {"datum": 1.9}, "y": {"datum": 16.3}, "text": {"field": "label"}}}
          ]
        }
      ]
    },
    {
      "spacing": 0,
      "hconcat": [
        {
          "spacing": 6,
          "hconcat": [
            {
              "width": 242, "height": 242,
              "layer": [
                {"data": {"name": "d"}, "mark": {"type": "circle", "size": 46, "opacity": 1, "color": "#2f87ec", "clip": true},
                 "encoding": {
                   "x": {"field": "x", "type": "quantitative", "scale": {"domain": [0, 7], "nice": false}, "axis": {"title": "ln(τwall) (ln(ms))", "values": [0, 1, 2, 3, 4, 5, 6, 7], "format": "d", "tickCount": 20, "labelOverlap": false}},
                   "y": {"field": "y", "type": "quantitative", "scale": {"domain": [16, 21], "nice": false, "zero": false}, "axis": {"title": "Logarithmic discrepancy", "values": [16, 17, 18, 19, 20, 21], "format": "d", "tickCount": 20, "labelOverlap": false}}
                 }},
                {"data": {"values": [{"label": "(d)"}]}, "mark": {"type": "text", "align": "left", "baseline": "middle", "fontSize": 12.5},
                 "encoding": {"x": {"datum": 0.27}, "y": {"datum": 16.27}, "text": {"field": "label"}}}
              ]
            },
            {
              "width": 241, "height": 242,
              "layer": [
                {"data": {"name": "e"}, "mark": {"type": "circle", "size": 46, "opacity": 1, "color": "#2f87ec", "clip": true},
                 "encoding": {
                   "x": {"field": "x", "type": "quantitative", "scale": {"domain": [0, 100], "nice": false}, "axis": {"title": "fAr (%)", "values": [0, 20, 40, 60, 80, 100], "format": "d", "tickCount": 20, "labelOverlap": false}},
                   "y": {"field": "y", "type": "quantitative", "scale": {"domain": [16, 21], "nice": false, "zero": false}, "axis": null}
                 }},
                {"data": {"values": [{"label": "(e)"}]}, "mark": {"type": "text", "align": "left", "baseline": "middle", "fontSize": 12.5},
                 "encoding": {"x": {"datum": 4.8}, "y": {"datum": 16.27}, "text": {"field": "label"}}}
              ]
            }
          ]
        },
        {
          "width": 241, "height": 243,
          "layer": [
            {"data": {"name": "f"}, "mark": {"type": "line", "strokeWidth": 2, "clip": true},
             "encoding": {
               "x": {"field": "t", "type": "quantitative", "scale": {"domain": [0, 45], "nice": false}, "axis": {"title": "Time after the plasma current peak (ms)", "values": [0, 10, 20, 30, 40], "format": "d", "tickCount": 20, "labelFontSize": 11.5, "titleFontSize": 11, "labelOverlap": false}},
               "y": {"field": "i", "type": "quantitative", "scale": {"domain": [0, 1.5], "nice": false}, "axis": {"title": "Plasma current (MA)", "values": [0, 0.2, 0.4, 0.6, 0.8, 1.0, 1.2, 1.4], "tickCount": 20, "format": ".1f", "labelFontSize": 11, "titleFontSize": 12, "titlePadding": 0, "labelOverlap": false}},
               "color": {"field": "s", "type": "nominal", "scale": {"domain": ["JET", "DREAM"], "range": ["#111111", "#ee1c1c"]}, "legend": null},
               "order": {"field": "t", "type": "quantitative"}
             }},
            {"data": {"values": [{}]}, "mark": {"type": "rule", "strokeDash": [5, 3], "strokeWidth": 1.5, "color": "#000"},
             "encoding": {"x": {"datum": 25}}},
            {"data": {"values": [{"label": "JET #95135"}]}, "mark": {"type": "text", "align": "left", "baseline": "middle", "fontSize": 11, "fontWeight": "bold", "color": "#000"},
             "encoding": {"x": {"datum": 3.1}, "y": {"datum": 1.33}, "text": {"field": "label"}}},
            {"data": {"values": [{"label": "DREAM"}]}, "mark": {"type": "text", "align": "left", "baseline": "middle", "fontSize": 11, "fontWeight": "bold", "color": "#ee1c1c"},
             "encoding": {"x": {"datum": 2.9}, "y": {"datum": 0.8}, "text": {"field": "label"}}},
            {"data": {"values": [{"label": "(f)"}]}, "mark": {"type": "text", "align": "left", "baseline": "middle", "fontSize": 12},
             "encoding": {"x": {"datum": 2.1}, "y": {"datum": 0.11}, "text": {"field": "label"}}}
          ]
        }
      ]
    }
  ]
}
